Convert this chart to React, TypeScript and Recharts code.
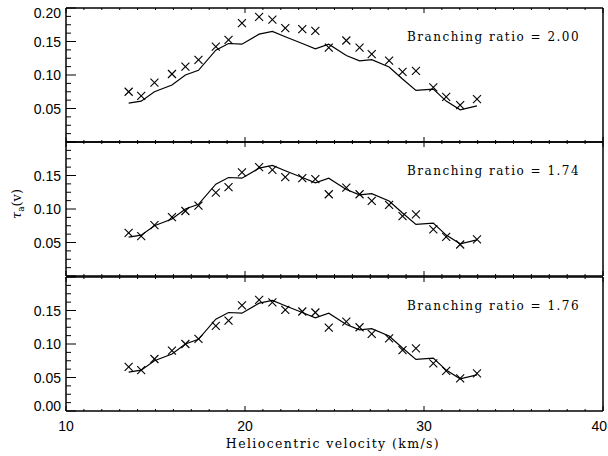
import React from 'react';
import { ComposedChart, Line, Scatter, XAxis, YAxis } from 'recharts';

// heliocentric velocity of each channel (km/s)
const VELOCITY = [
  13.5, 14.2, 14.94, 15.92, 16.67, 17.4, 18.37, 19.08, 19.83, 20.79, 21.53, 22.25, 23.2,
  23.93, 24.68, 25.66, 26.4, 27.08, 28.05, 28.8, 29.55, 30.52, 31.24, 32.02, 32.96,
];

// model optical depth (solid line, same in every panel)
const MODEL_TAU = [
  0.058, 0.061, 0.075, 0.085, 0.1, 0.107, 0.137, 0.147, 0.146, 0.161, 0.165, 0.157, 0.147,
  0.139, 0.146, 0.129, 0.121, 0.123, 0.112, 0.094, 0.077, 0.079, 0.061, 0.048, 0.054,
];

// observed optical depth for each branching ratio (crosses)
const OBS_TAU_200 = [
  0.075, 0.069, 0.0885, 0.1015, 0.1125, 0.1225, 0.1425, 0.1525, 0.1775, 0.1866, 0.1825, 0.17,
  0.1686, 0.166, 0.141, 0.1515, 0.141, 0.131, 0.1215, 0.1045, 0.106, 0.0816, 0.0675, 0.055, 0.064,
];
const OBS_TAU_174 = [
  0.0645, 0.0595, 0.076, 0.088, 0.097, 0.105, 0.1245, 0.1326, 0.1545, 0.1626, 0.1585, 0.1476,
  0.146, 0.1446, 0.122, 0.132, 0.122, 0.112, 0.106, 0.0895, 0.092, 0.0696, 0.0585, 0.047, 0.0546,
];
const OBS_TAU_176 = [
  0.066, 0.061, 0.0776, 0.09, 0.1, 0.1076, 0.127, 0.135, 0.1575, 0.166, 0.162, 0.151, 0.1485,
  0.147, 0.1245, 0.1335, 0.125, 0.115, 0.1085, 0.091, 0.0935, 0.071, 0.06, 0.0486, 0.056,
];

const RATIO_LABELS = ['Branching ratio = 2.00', 'Branching ratio = 1.74', 'Branching ratio = 1.76'];

const X_TICKS = [
  10, 11, 12, 13, 14, 15, 16, 17, 18, 19, 20, 21, 22, 23, 24, 25, 26, 27, 28, 29, 30,
  31, 32, 33, 34, 35, 36, 37, 38, 39, 40,
];
const X_TICK_LABELS = [10, 20, 30, 40];

const Y_TICKS = [
  0, 0.0125, 0.025, 0.0375, 0.05, 0.0625, 0.075, 0.0875, 0.1, 0.1125, 0.125, 0.1375, 0.15,
  0.1625, 0.175, 0.1875, 0.2,
];
const Y_LABELS_TOP = [0.05, 0.1, 0.15, 0.2];
const Y_LABELS_MID = [0.05, 0.1, 0.15];
const Y_LABELS_BOT = [0, 0.05, 0.1, 0.15];

const X_TITLE = 'Heliocentric velocity (km/s)';

const W = 608;
const PLOT_H = 134;
const TICK_FONT = { fontFamily: '"Liberation Sans", Arial, sans-serif', fontSize: 14, fill: '#000' };
const TITLE_FONT = '"DejaVu Serif", serif';

const isMajorY = (v: number) => Math.abs(v / 0.05 - Math.round(v / 0.05)) < 1e-6;

function XTick(props: any) {
  const { x, y, payload, dir, labels } = props;
  const v = payload.value;
  const len = v % 10 === 0 ? 5 : 2;
  // last label sits at the right edge of the page, keep it inside
  const atEdge = v === 40;
  return (
    <g>
      <line x1={x} x2={x} y1={y} y2={y + dir * len} stroke="#000" strokeWidth={1} />
      {labels.includes(v) && (
        <text x={atEdge ? x + 4 : x} y={y + 20} textAnchor={atEdge ? 'end' : 'middle'} {...TICK_FONT}>
          {v}
        </text>
      )}
    </g>
  );
}

function YTick(props: any) {
  const { x, y, payload, dir, labels } = props;
  const v = payload.value;
  const len = isMajorY(v) ? 10 : 5;
  let dy = 0;
  if (v >= 0.2 - 1e-9) dy = 5;
  if (v <= 1e-9) dy = -5;
  const show = labels.some((l: number) => Math.abs(l - v) < 1e-9);
  return (
    <g>
      <line x1={x} x2={x + dir * len} y1={y} y2={y} stroke="#000" strokeWidth={1} />
      {show && (
        <text x={x - 5} y={y + dy + 5} textAnchor="end" {...TICK_FONT}>
          {v.toFixed(2)}
        </text>
      )}
    </g>
  );
}

function XMark(props: any) {
  const { cx, cy } = props;
  const s = 4;
  return (
    <g stroke="#000" strokeWidth={1.1}>
      <line x1={cx - s} y1={cy - s} x2={cx + s} y2={cy + s} />
      <line x1={cx - s} y1={cy + s} x2={cx + s} y2={cy - s} />
    </g>
  );
}

function Panel({ obs, yLabels, plotTop, showX }: { obs: number[]; yLabels: number[]; plotTop: number; showX: boolean }) {
  const data = VELOCITY.map((v, i) => ({ v, model: MODEL_TAU[i], obs: obs[i] }));
  const mb = showX ? 30 : 4;
  const frame = { stroke: '#000', strokeWidth: 1.5 };
  return (
    <div style={{ position: 'absolute', left: 0, top: plotTop - 4 }}>
      <ComposedChart width={W} height={PLOT_H + 4 + mb} data={data} margin={{ top: 3, right: 4, bottom: mb - 1, left: 0 }}>
        <XAxis
          xAxisId="b"
          dataKey="v"
          type="number"
          domain={[10, 40]}
          ticks={X_TICKS}
          interval={0}
          height={1}
          tickSize={0}
          tickMargin={0}
          tickLine={false}
          axisLine={frame}
          tick={(p: any) => <XTick {...p} dir={-1} labels={showX ? X_TICK_LABELS : []} />}
        />
        <XAxis
          xAxisId="t"
          orientation="top"
          dataKey="v"
          type="number"
          domain={[10, 40]}
          ticks={X_TICKS}
          interval={0}
          height={1}
          tickSize={0}
          tickMargin={0}
          tickLine={false}
          axisLine={frame}
          tick={(p: any) => <XTick {...p} dir={1} labels={[]} />}
        />
        <YAxis
          yAxisId="l"
          type="number"
          domain={[0, 0.2]}
          ticks={Y_TICKS}
          interval={0}
          width={66}
          tickSize={0}
          tickMargin={0}
          tickLine={false}
          axisLine={frame}
          tick={(p: any) => <YTick {...p} dir={1} labels={yLabels} />}
        />
        <YAxis
          yAxisId="r"
          orientation="right"
          type="number"
          domain={[0, 0.2]}
          ticks={Y_TICKS}
          interval={0}
          width={1}
          tickSize={0}
          tickMargin={0}
          tickLine={false}
          axisLine={frame}
          tick={(p: any) => <YTick {...p} dir={-1} labels={[]} />}
        />
        <Line
          xAxisId="b"
          yAxisId="l"
          dataKey="model"
          type="linear"
          dot={false}
          stroke="#000"
          strokeWidth={1.2}
          isAnimationActive={false}
        />
        <Scatter xAxisId="b" yAxisId="l" dataKey="obs" shape={XMark} isAnimationActive={false} />
      </ComposedChart>
    </div>
  );
}

export default function App() {
  const panelTops = [8, 142, 277];
  return (
    <div style={{ position: 'absolute', left: 0, top: 0, width: W, height: 456, background: '#fff' }}>
      <Panel obs={OBS_TAU_200} yLabels={Y_LABELS_TOP} plotTop={panelTops[0]} showX={false} />
      <Panel obs={OBS_TAU_174} yLabels={Y_LABELS_MID} plotTop={panelTops[1]} showX={false} />
      <Panel obs={OBS_TAU_176} yLabels={Y_LABELS_BOT} plotTop={panelTops[2]} showX={true} />
      <svg width={W} height={456} style={{ position: 'absolute', left: 0, top: 0, pointerEvents: 'none' }}>
        {RATIO_LABELS.map((t, i) => (
          <text
            key={t}
            x={407}
            y={panelTops[i] + 33}
            fontFamily={TITLE_FONT}
            fontSize={12}
            letterSpacing={1.5}
            fill="#000"
          >
            {t}
          </text>
        ))}
        <text x={333} y={448} textAnchor="middle" fontFamily={TITLE_FONT} fontSize={12.5} letterSpacing={1.4} fill="#000">
          {X_TITLE}
        </text>
        <text transform="translate(21,204) rotate(-90)" textAnchor="middle" fontFamily={TITLE_FONT} fontSize={13} fill="#000">
          <tspan fontStyle="italic">τ</tspan>
          <tspan fontSize={9} dy={3}>a</tspan>
          <tspan dy={-3}>(v)</tspan>
        </text>
      </svg>
    </div>
  );
}
